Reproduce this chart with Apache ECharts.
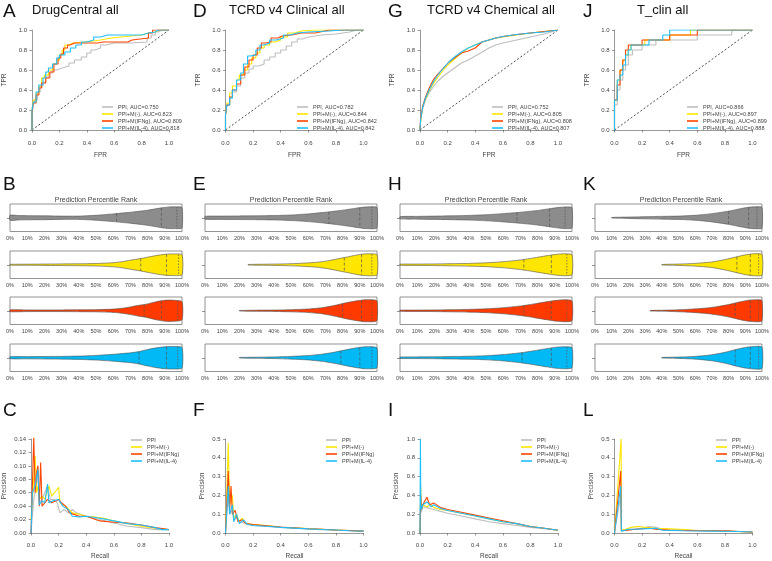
<!DOCTYPE html>
<html><head><meta charset="utf-8">
<script src="https://cdn.jsdelivr.net/npm/echarts@6/dist/echarts.min.js"></script>
<style>html,body{margin:0;padding:0;background:#fff}#c{width:772px;height:561px}</style>
</head><body><div id="c"></div>
<script>
// ---------- labels ----------
const panelTitles = ['DrugCentral all','TCRD v4 Clinical all','TCRD v4 Chemical all','T_clin all'];
const panelLetters = [['A','B','C'],['D','E','F'],['G','H','I'],['J','K','L']];
const seriesNames = ['PPI','PPI+M(-)','PPI+M(IFNg)','PPI+M(IL-4)'];
const aucValues = [['0.750','0.823','0.809','0.818'],['0.782','0.844','0.842','0.842'],['0.752','0.805','0.808','0.807'],['0.866','0.897','0.899','0.888']];
const violinTitle = 'Prediction Percentile Rank';
const refLine = [[0,0],[1,1]];

// ---------- ROC curves [FPR, TPR] ----------
const roc1_ppi = [[0,0],[0.01,0.15],[0.02,0.25],[0.04,0.3],[0.06,0.38],[0.08,0.44],[0.1,0.48],[0.12,0.53],[0.15,0.57],[0.18,0.6],[0.22,0.62],[0.27,0.64],[0.31,0.67],[0.36,0.7],[0.4,0.73],[0.43,0.77],[0.46,0.8],[0.5,0.82],[0.54,0.85],[0.6,0.87],[0.72,0.87],[0.84,0.88],[0.87,0.92],[0.9,0.95],[0.92,0.98],[0.95,1],[1,1]];
const roc1_m = [[0,0],[0.01,0.2],[0.03,0.3],[0.05,0.37],[0.07,0.44],[0.09,0.52],[0.12,0.55],[0.15,0.6],[0.18,0.66],[0.2,0.7],[0.22,0.75],[0.24,0.8],[0.27,0.85],[0.3,0.87],[0.38,0.88],[0.45,0.89],[0.5,0.9],[0.58,0.92],[0.65,0.93],[0.8,0.95],[0.85,0.97],[0.9,0.98],[0.93,1],[1,1]];
const roc1_ifng = [[0,0],[0.01,0.18],[0.03,0.27],[0.05,0.35],[0.07,0.42],[0.1,0.47],[0.13,0.52],[0.16,0.58],[0.19,0.66],[0.21,0.72],[0.23,0.76],[0.26,0.82],[0.28,0.85],[0.31,0.87],[0.4,0.87],[0.48,0.87],[0.52,0.88],[0.7,0.88],[0.73,0.9],[0.85,0.92],[0.88,0.97],[0.9,1],[1,1]];
const roc1_il4 = [[0,0],[0.01,0.2],[0.03,0.28],[0.05,0.38],[0.08,0.45],[0.1,0.52],[0.12,0.58],[0.15,0.62],[0.18,0.66],[0.2,0.72],[0.24,0.75],[0.28,0.78],[0.32,0.82],[0.36,0.85],[0.4,0.88],[0.45,0.9],[0.5,0.93],[0.55,0.95],[0.8,0.95],[0.85,0.97],[0.9,0.98],[0.92,1],[1,1]];

const roc2_ppi = [[0,0],[0.01,0.15],[0.03,0.25],[0.05,0.32],[0.08,0.38],[0.11,0.44],[0.14,0.52],[0.17,0.57],[0.2,0.61],[0.24,0.64],[0.28,0.66],[0.32,0.7],[0.36,0.73],[0.4,0.77],[0.44,0.8],[0.48,0.84],[0.52,0.88],[0.56,0.91],[0.6,0.93],[0.7,0.95],[0.8,0.96],[0.9,0.98],[0.95,1],[1,1]];
const roc2_m = [[0,0],[0.01,0.15],[0.03,0.27],[0.05,0.37],[0.08,0.44],[0.1,0.5],[0.13,0.55],[0.16,0.6],[0.19,0.66],[0.22,0.72],[0.25,0.77],[0.28,0.82],[0.32,0.85],[0.36,0.88],[0.4,0.9],[0.45,0.93],[0.5,0.97],[0.55,0.99],[0.65,1],[1,1]];
const roc2_ifng = [[0,0],[0.01,0.15],[0.03,0.25],[0.05,0.33],[0.08,0.4],[0.11,0.46],[0.14,0.55],[0.17,0.63],[0.2,0.7],[0.23,0.75],[0.26,0.82],[0.29,0.87],[0.33,0.88],[0.38,0.92],[0.41,0.94],[0.48,0.95],[0.55,0.97],[0.65,0.97],[0.72,0.99],[0.75,1],[1,1]];
const roc2_il4 = [[0,0],[0.01,0.15],[0.03,0.25],[0.05,0.32],[0.08,0.4],[0.11,0.5],[0.13,0.57],[0.16,0.66],[0.18,0.74],[0.22,0.75],[0.25,0.8],[0.28,0.85],[0.32,0.87],[0.37,0.9],[0.42,0.92],[0.47,0.95],[0.52,0.97],[0.6,0.98],[0.75,0.99],[0.85,1],[1,1]];

const roc3_ppi = [[0,0],[0.005,0.1],[0.02,0.22],[0.04,0.3],[0.07,0.38],[0.1,0.44],[0.13,0.49],[0.17,0.54],[0.21,0.58],[0.25,0.62],[0.3,0.67],[0.35,0.7],[0.4,0.74],[0.45,0.78],[0.5,0.82],[0.55,0.85],[0.6,0.87],[0.7,0.9],[0.8,0.93],[0.9,0.96],[1,1]];
const roc3_m = [[0,0],[0.005,0.1],[0.02,0.23],[0.04,0.31],[0.07,0.4],[0.1,0.47],[0.13,0.53],[0.17,0.6],[0.21,0.66],[0.25,0.71],[0.3,0.77],[0.35,0.82],[0.4,0.85],[0.45,0.88],[0.5,0.9],[0.55,0.92],[0.6,0.93],[0.7,0.95],[0.8,0.97],[0.9,0.985],[1,1]];
const roc3_ifng = [[0,0],[0.005,0.12],[0.02,0.24],[0.04,0.33],[0.07,0.43],[0.1,0.51],[0.13,0.56],[0.17,0.62],[0.21,0.68],[0.25,0.72],[0.3,0.77],[0.35,0.79],[0.4,0.82],[0.45,0.88],[0.5,0.9],[0.55,0.92],[0.6,0.935],[0.7,0.955],[0.8,0.97],[0.9,0.985],[1,1]];
const roc3_il4 = [[0,0],[0.005,0.11],[0.02,0.23],[0.04,0.32],[0.07,0.41],[0.1,0.49],[0.13,0.55],[0.17,0.62],[0.21,0.68],[0.25,0.73],[0.3,0.78],[0.35,0.82],[0.4,0.85],[0.45,0.88],[0.5,0.9],[0.55,0.92],[0.6,0.935],[0.7,0.955],[0.8,0.97],[0.9,0.98],[1,1]];

const roc4_ppi = [[0,0],[0.02,0.25],[0.04,0.4],[0.06,0.5],[0.08,0.6],[0.1,0.65],[0.13,0.75],[0.15,0.8],[0.2,0.8],[0.22,0.85],[0.3,0.85],[0.33,0.9],[0.5,0.9],[0.6,0.9],[0.62,0.95],[0.85,0.95],[0.88,1],[1,1]];
const roc4_m = [[0,0],[0.02,0.3],[0.04,0.5],[0.06,0.6],[0.08,0.7],[0.1,0.75],[0.12,0.8],[0.17,0.85],[0.22,0.85],[0.25,0.9],[0.4,0.9],[0.45,0.95],[0.55,0.95],[0.58,1],[1,1]];
const roc4_ifng = [[0,0],[0.02,0.3],[0.04,0.45],[0.06,0.6],[0.08,0.7],[0.1,0.8],[0.15,0.85],[0.2,0.85],[0.22,0.9],[0.4,0.9],[0.45,0.95],[0.6,0.95],[0.63,1],[1,1]];
const roc4_il4 = [[0,0],[0.02,0.3],[0.04,0.5],[0.06,0.55],[0.08,0.65],[0.1,0.75],[0.12,0.8],[0.18,0.85],[0.25,0.85],[0.28,0.9],[0.35,0.9],[0.4,0.95],[0.45,1],[1,1]];

// ---------- PR curves [Recall, Precision] ----------
const pr1_ppi = [[0,0],[0.02,0.05],[0.04,0.07],[0.05,0.1],[0.06,0.045],[0.08,0.05],[0.1,0.06],[0.12,0.07],[0.14,0.05],[0.17,0.05],[0.19,0.045],[0.21,0.03],[0.24,0.035],[0.27,0.03],[0.3,0.035],[0.33,0.03],[0.4,0.025],[0.5,0.02],[0.6,0.015],[0.7,0.01],[0.8,0.008],[0.9,0.005],[1,0.005]];
const pr1_m = [[0,0.02],[0.01,0.05],[0.03,0.115],[0.04,0.06],[0.05,0.07],[0.06,0.05],[0.08,0.055],[0.1,0.05],[0.13,0.07],[0.15,0.055],[0.17,0.06],[0.2,0.068],[0.21,0.045],[0.25,0.04],[0.3,0.03],[0.35,0.028],[0.4,0.025],[0.45,0.024],[0.53,0.022],[0.6,0.018],[0.7,0.014],[0.8,0.01],[0.9,0.007],[1,0.005]];
const pr1_ifng = [[0,0],[0.02,0.142],[0.03,0.06],[0.04,0.09],[0.05,0.1],[0.06,0.04],[0.07,0.105],[0.08,0.04],[0.1,0.045],[0.12,0.05],[0.15,0.045],[0.2,0.05],[0.22,0.045],[0.25,0.04],[0.28,0.03],[0.35,0.025],[0.4,0.025],[0.5,0.018],[0.6,0.016],[0.7,0.015],[0.8,0.012],[0.9,0.008],[1,0.005]];
const pr1_il4 = [[0,0],[0.01,0.06],[0.03,0.07],[0.05,0.095],[0.06,0.042],[0.08,0.048],[0.1,0.045],[0.12,0.073],[0.13,0.045],[0.16,0.048],[0.2,0.05],[0.23,0.04],[0.27,0.035],[0.3,0.025],[0.35,0.024],[0.4,0.025],[0.5,0.022],[0.6,0.018],[0.7,0.014],[0.8,0.012],[0.9,0.008],[0.95,0.005],[1,0.005]];

const pr2_ppi = [[0,0],[0.02,0.2],[0.03,0.1],[0.05,0.12],[0.06,0.07],[0.08,0.08],[0.1,0.06],[0.15,0.05],[0.2,0.04],[0.3,0.035],[0.4,0.03],[0.5,0.025],[0.6,0.022],[0.7,0.018],[0.8,0.015],[0.9,0.012],[1,0.01]];
const pr2_m = [[0,0],[0.02,0.48],[0.03,0.15],[0.05,0.2],[0.06,0.08],[0.08,0.1],[0.1,0.06],[0.12,0.08],[0.15,0.05],[0.2,0.045],[0.3,0.04],[0.4,0.03],[0.5,0.028],[0.6,0.024],[0.7,0.02],[0.8,0.016],[0.9,0.013],[1,0.01]];
const pr2_ifng = [[0,0],[0.02,0.33],[0.03,0.12],[0.04,0.25],[0.05,0.1],[0.07,0.12],[0.09,0.06],[0.12,0.07],[0.15,0.05],[0.2,0.045],[0.3,0.038],[0.4,0.032],[0.5,0.027],[0.6,0.023],[0.7,0.02],[0.8,0.016],[0.9,0.013],[1,0.01]];
const pr2_il4 = [[0,0],[0.02,0.25],[0.03,0.1],[0.05,0.15],[0.06,0.06],[0.08,0.1],[0.1,0.05],[0.13,0.07],[0.16,0.045],[0.2,0.04],[0.3,0.036],[0.4,0.03],[0.5,0.026],[0.6,0.022],[0.7,0.019],[0.8,0.016],[0.9,0.012],[1,0.01]];

const pr3_ppi = [[0,0],[0.005,0.3],[0.01,0.22],[0.02,0.28],[0.05,0.27],[0.1,0.25],[0.15,0.23],[0.2,0.21],[0.3,0.18],[0.4,0.15],[0.5,0.12],[0.6,0.1],[0.7,0.08],[0.8,0.06],[0.9,0.045],[1,0.03]];
const pr3_m = [[0,0],[0.005,0.5],[0.01,0.25],[0.02,0.3],[0.05,0.28],[0.08,0.3],[0.1,0.27],[0.15,0.25],[0.2,0.24],[0.3,0.21],[0.4,0.18],[0.5,0.15],[0.6,0.12],[0.7,0.1],[0.8,0.07],[0.9,0.05],[1,0.03]];
const pr3_ifng = [[0,0],[0.005,0.4],[0.01,0.25],[0.02,0.3],[0.05,0.38],[0.07,0.3],[0.1,0.32],[0.15,0.27],[0.2,0.25],[0.3,0.22],[0.4,0.19],[0.5,0.16],[0.6,0.13],[0.7,0.1],[0.8,0.07],[0.9,0.05],[1,0.03]];
const pr3_il4 = [[0,0],[0.003,1.0],[0.006,0.3],[0.01,0.25],[0.02,0.3],[0.05,0.33],[0.08,0.28],[0.1,0.3],[0.15,0.26],[0.2,0.24],[0.3,0.21],[0.4,0.18],[0.5,0.15],[0.6,0.12],[0.7,0.1],[0.8,0.07],[0.9,0.05],[1,0.03]];

const pr4_ppi = [[0,0],[0.045,0.2],[0.05,0.015],[0.1,0.02],[0.15,0.02],[0.2,0.025],[0.25,0.035],[0.3,0.03],[0.35,0.02],[0.45,0.018],[0.6,0.013],[0.75,0.01],[0.9,0.008],[1,0.005]];
const pr4_m = [[0,0],[0.048,0.5],[0.05,0.015],[0.08,0.02],[0.12,0.03],[0.18,0.035],[0.22,0.03],[0.3,0.025],[0.4,0.022],[0.48,0.02],[0.6,0.013],[0.8,0.01],[1,0.005]];
const pr4_ifng = [[0,0],[0.045,0.33],[0.05,0.012],[0.1,0.015],[0.15,0.02],[0.25,0.025],[0.3,0.02],[0.4,0.015],[0.6,0.012],[0.82,0.012],[0.9,0.008],[1,0.005]];
const pr4_il4 = [[0,0],[0.045,0.25],[0.05,0.01],[0.1,0.02],[0.15,0.02],[0.2,0.022],[0.3,0.025],[0.35,0.015],[0.5,0.012],[0.7,0.01],[0.9,0.008],[1,0.005]];

const prYMax = [0.14, 0.5, 1.0, 0.5];
const prYStep = [0.02, 0.1, 0.2, 0.1];
const prYDigits = [2, 1, 1, 1];

// ---------- violin densities [percentile, half-width (box half-height = 1)] ----------
const vio1_ppi = [[0,0.18],[5,0.16],[10,0.15],[20,0.14],[30,0.12],[40,0.12],[50,0.18],[60,0.28],[70,0.4],[80,0.55],[88,0.72],[93,0.79],[97,0.79],[100,0.75]];
const vio1_m = [[0,0.03],[10,0.04],[20,0.05],[30,0.06],[40,0.07],[50,0.09],[60,0.15],[65,0.22],[70,0.33],[75,0.43],[80,0.55],[85,0.67],[90,0.76],[95,0.79],[100,0.72]];
const vio1_ifng = [[0,0.07],[10,0.06],[20,0.06],[30,0.06],[40,0.07],[50,0.08],[60,0.12],[65,0.18],[70,0.28],[75,0.4],[80,0.5],[85,0.66],[90,0.76],[95,0.77],[100,0.66]];
const vio1_il4 = [[0,0.07],[10,0.08],[20,0.09],[30,0.1],[40,0.12],[50,0.17],[60,0.25],[70,0.36],[75,0.45],[80,0.6],[85,0.72],[90,0.8],[95,0.82],[100,0.75]];
const vio2_ppi = [[0,0.1],[10,0.12],[20,0.13],[30,0.14],[40,0.16],[50,0.2],[60,0.28],[70,0.4],[80,0.55],[88,0.7],[93,0.78],[97,0.8],[100,0.75]];
const vio2_m = [[25,0.02],[35,0.04],[45,0.06],[55,0.1],[65,0.18],[72,0.3],[78,0.45],[84,0.6],[90,0.75],[95,0.8],[100,0.72]];
const vio2_ifng = [[20,0.02],[30,0.04],[40,0.05],[50,0.08],[60,0.13],[68,0.22],[75,0.38],[82,0.58],[88,0.72],[93,0.8],[97,0.8],[100,0.72]];
const vio2_il4 = [[20,0.02],[30,0.04],[40,0.06],[50,0.1],[60,0.16],[68,0.26],[75,0.4],[82,0.58],[88,0.72],[93,0.8],[97,0.8],[100,0.72]];
const vio3_ppi = [[0,0.08],[10,0.1],[20,0.12],[30,0.14],[40,0.17],[50,0.22],[60,0.3],[70,0.4],[80,0.53],[88,0.68],[93,0.76],[97,0.79],[100,0.74]];
const vio3_m = [[0,0.04],[10,0.05],[20,0.06],[30,0.08],[40,0.1],[50,0.14],[60,0.22],[70,0.35],[78,0.5],[85,0.65],[91,0.76],[96,0.8],[100,0.72]];
const vio3_ifng = [[0,0.04],[10,0.05],[20,0.06],[30,0.08],[40,0.1],[50,0.14],[60,0.22],[70,0.35],[78,0.5],[85,0.65],[91,0.76],[96,0.8],[100,0.72]];
const vio3_il4 = [[0,0.05],[10,0.06],[20,0.07],[30,0.09],[40,0.11],[50,0.15],[60,0.23],[70,0.36],[78,0.51],[85,0.66],[91,0.77],[96,0.8],[100,0.73]];
const vio4_ppi = [[10,0.02],[20,0.05],[30,0.08],[40,0.1],[50,0.12],[60,0.18],[70,0.3],[80,0.48],[88,0.68],[93,0.78],[97,0.8],[100,0.76]];
const vio4_m = [[40,0.02],[50,0.05],[60,0.1],[70,0.2],[78,0.38],[85,0.58],[90,0.72],[95,0.8],[100,0.75]];
const vio4_ifng = [[33,0.02],[45,0.05],[55,0.1],[65,0.18],[72,0.28],[80,0.45],[87,0.65],[92,0.77],[97,0.8],[100,0.75]];
const vio4_il4 = [[40,0.02],[50,0.05],[60,0.1],[70,0.22],[78,0.4],[85,0.62],[90,0.75],[95,0.82],[100,0.78]];

// quartiles (25%, 50%, 75%) of each violin
const q1_ppi=[62,88,97], q1_m=[76,91,98], q1_ifng=[78,88,97.5], q1_il4=[75,91,97.5];
const q2_ppi=[72,90,97], q2_m=[81,91,97], q2_ifng=[80,91,97], q2_il4=[79,90,97];
const q3_ppi=[68,87,96], q3_m=[72,88,97], q3_ifng=[72,88,97], q3_il4=[71,88,97];
const q4_ppi=[80,92,97], q4_m=[85,93,98], q4_ifng=[84,93,98], q4_il4=[84,93,98];

// ---------- assemble ----------
const rocData = [[roc1_ppi,roc1_m,roc1_ifng,roc1_il4],[roc2_ppi,roc2_m,roc2_ifng,roc2_il4],[roc3_ppi,roc3_m,roc3_ifng,roc3_il4],[roc4_ppi,roc4_m,roc4_ifng,roc4_il4]];
const prData = [[pr1_ppi,pr1_m,pr1_ifng,pr1_il4],[pr2_ppi,pr2_m,pr2_ifng,pr2_il4],[pr3_ppi,pr3_m,pr3_ifng,pr3_il4],[pr4_ppi,pr4_m,pr4_ifng,pr4_il4]];
const vioData = [[vio1_ppi,vio1_m,vio1_ifng,vio1_il4],[vio2_ppi,vio2_m,vio2_ifng,vio2_il4],[vio3_ppi,vio3_m,vio3_ifng,vio3_il4],[vio4_ppi,vio4_m,vio4_ifng,vio4_il4]];
const quantData = [[q1_ppi,q1_m,q1_ifng,q1_il4],[q2_ppi,q2_m,q2_ifng,q2_il4],[q3_ppi,q3_m,q3_ifng,q3_il4],[q4_ppi,q4_m,q4_ifng,q4_il4]];

const FONT = '"Liberation Sans", Arial, Helvetica, sans-serif';
const lineColors = ['#BEBEBE','#FFE500','#FF4500','#1EBFFF'];
const vioFills = ['#8C8C8C','#FFE600','#FF3A00','#00B9F5'];
const AX = '#555';
const TXT = '#444';

const grids=[], xAxes=[], yAxes=[], series=[], legends=[], graphics=[];
function addGrid(g, x, y){
  grids.push(g);
  const gi = grids.length-1;
  xAxes.push(Object.assign({gridIndex:gi}, x));
  yAxes.push(Object.assign({gridIndex:gi}, y));
  return gi;
}
function axisCommon(min,max,step,digits,name,gap,offset,margin){
  return {type:'value', min, max, interval:step, offset,
    axisLine:{show:true, lineStyle:{color:AX, width:0.6}},
    axisTick:{show:true, length:2.5, lineStyle:{color:AX, width:0.6}},
    axisLabel:{fontSize:6, color:TXT, margin:margin, fontFamily:FONT, formatter:v=>v.toFixed(digits)},
    splitLine:{show:false},
    name, nameLocation:'middle', nameGap:gap, nameTextStyle:{fontSize:6.5, color:TXT, fontFamily:FONT}};
}
function interp(d, q){
  if (q <= d[0][0]) return d[0][1];
  for (let i=1;i<d.length;i++){
    if (q <= d[i][0]){ const t=(q-d[i-1][0])/(d[i][0]-d[i-1][0]); return d[i-1][1]+t*(d[i][1]-d[i-1][1]); }
  }
  return d[d.length-1][1];
}
function makeViolin(dens, quant, fill){
  return function(params, api){
    const up = dens.map(d=>api.coord([d[0], d[1]]));
    const lo = dens.slice().reverse().map(d=>api.coord([d[0], -d[1]]));
    const children = [{type:'polygon', shape:{points:up.concat(lo), smooth:0.2}, style:{fill, stroke:'#505050', lineWidth:0.6}}];
    quant.forEach((q,i)=>{
      const h = interp(dens, q);
      const a = api.coord([q, h]), b = api.coord([q, -h]);
      children.push({type:'line', shape:{x1:a[0],y1:a[1],x2:b[0],y2:b[1]}, style:{stroke:'#555', lineWidth:0.7, lineDash: i===2 ? [1.5,1.5] : [3,2]}});
    });
    return {type:'group', children};
  };
}

const rocLeft = [31, 225.5, 420, 614.5];
const vioLeft = [10, 205, 400, 595];
const vioTops = [204, 251, 297, 344];
const letterX = [3, 193, 388, 583];
const titleX = [32, 229, 427, 637];

for (let c=0;c<4;c++){
  // ---- ROC ----
  const gr = addGrid({left:rocLeft[c], top:30, width:138, height:100},
    axisCommon(0,1,0.2,1,'FPR',15,7,3.5),
    axisCommon(0,1,0.2,1,'TPR',21,3,2));
  series.push({type:'line', xAxisIndex:gr, yAxisIndex:gr, data:refLine, showSymbol:false, silent:true,
    lineStyle:{color:'#000', width:0.7, type:[2,2]}, itemStyle:{color:'#000'}});
  const rocNames=[];
  for (let s=0;s<4;s++){
    const nm = seriesNames[s]+', AUC='+aucValues[c][s];
    rocNames.push(nm);
    series.push({type:'line', name:nm, xAxisIndex:gr, yAxisIndex:gr, data:rocData[c][s], showSymbol:false,
      step: c===2 ? false : 'start', lineStyle:{color:lineColors[s], width:1.1}, itemStyle:{color:lineColors[s]}});
  }
  legends.push({data:rocNames, left:97+195*c, top:98.5, orient:'vertical', icon:'rect', itemWidth:11, itemHeight:1.6, itemGap:0,
    textStyle:{fontSize:5.5, lineHeight:7, color:TXT, fontFamily:FONT}, selectedMode:false});

  // ---- violins ----
  for (let s=0;s<4;s++){
    const gv = addGrid({left:vioLeft[c], top:vioTops[s], width:172, height:27.5, show:true, borderColor:'#666', borderWidth:0.7},
      {type:'value', min:0, max:100, interval:10, axisLine:{show:false}, axisTick:{show:false}, splitLine:{show:false},
        axisLabel:{fontSize:5.5, color:TXT, margin:4, fontFamily:FONT, formatter:'{value}%'}},
      {type:'value', min:-1, max:1, interval:1, axisLine:{show:false}, splitLine:{show:false}, axisLabel:{show:false},
        axisTick:{show:true, length:3, customValues:[0], lineStyle:{color:'#666', width:0.7}}});
    series.push({type:'custom', xAxisIndex:gv, yAxisIndex:gv, data:[[50,0]], silent:true, clip:false,
      renderItem: makeViolin(vioData[c][s], quantData[c][s], vioFills[s])});
  }

  // ---- PR ----
  const gp = addGrid({left:rocLeft[c], top:439, width:138, height:98},
    axisCommon(0,1,0.2,1,'Recall',15,5,4),
    axisCommon(0,prYMax[c],prYStep[c],prYDigits[c],'Precision',c===0?20:17,3,2));
  for (let s=0;s<4;s++){
    series.push({type:'line', name:seriesNames[s], xAxisIndex:gp, yAxisIndex:gp, data:prData[c][s], showSymbol:false, clip:false,
      lineStyle:{color:lineColors[s], width:1.1}, itemStyle:{color:lineColors[s]}});
  }
  legends.push({data:seriesNames, left:126+195*c, top:431.5, orient:'vertical', icon:'rect', itemWidth:11, itemHeight:1.6, itemGap:0,
    textStyle:{fontSize:5.5, lineHeight:7, color:TXT, fontFamily:FONT}, selectedMode:false});

  // ---- text ----
  graphics.push({type:'text', x:titleX[c], y:10, style:{text:panelTitles[c], fontSize:13, fontFamily:FONT, fill:'#111', verticalAlign:'middle'}});
  graphics.push({type:'text', x:letterX[c], y:2, style:{text:panelLetters[c][0], fontSize:19, fontFamily:FONT, fill:'#111', verticalAlign:'top'}});
  graphics.push({type:'text', x:letterX[c], y:175, style:{text:panelLetters[c][1], fontSize:19, fontFamily:FONT, fill:'#111', verticalAlign:'top'}});
  graphics.push({type:'text', x:letterX[c], y:401, style:{text:panelLetters[c][2], fontSize:19, fontFamily:FONT, fill:'#111', verticalAlign:'top'}});
  graphics.push({type:'text', x:vioLeft[c]+86, y:200, style:{text:violinTitle, fontSize:7, fontFamily:FONT, fill:TXT, align:'center', verticalAlign:'middle'}});
}

const chart = echarts.init(document.getElementById('c'), null, {renderer:'canvas'});
chart.setOption({
  animation:false,
  backgroundColor:'#fff',
  textStyle:{fontFamily:FONT},
  grid:grids, xAxis:xAxes, yAxis:yAxes, series, legend:legends, graphic:graphics
});
</script></body></html>
